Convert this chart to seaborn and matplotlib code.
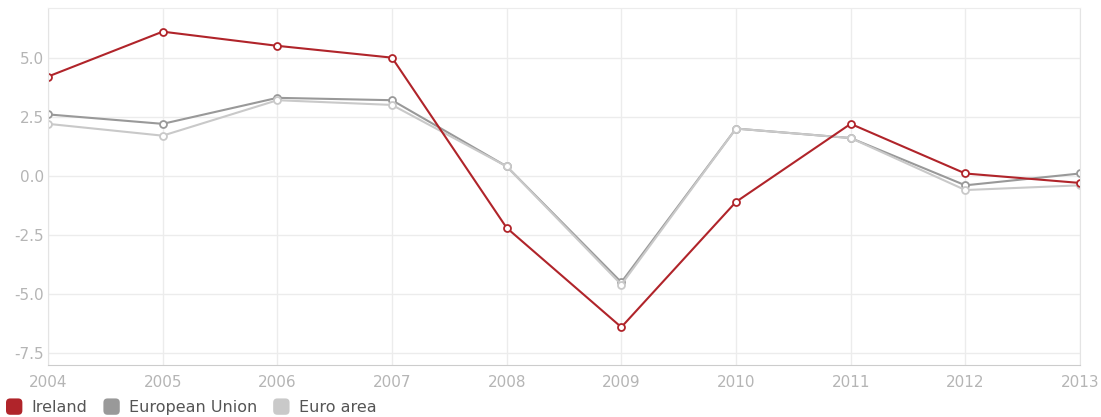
import matplotlib
matplotlib.use("Agg")
import matplotlib.pyplot as plt
import seaborn as sns
import pandas as pd
from matplotlib.patches import Patch, FancyBboxPatch
from matplotlib.legend_handler import HandlerPatch

years = [2004, 2005, 2006, 2007, 2008, 2009, 2010, 2011, 2012, 2013]
ireland = [4.2, 6.1, 5.5, 5.0, -2.2, -6.4, -1.1, 2.2, 0.1, -0.3]
eu = [2.6, 2.2, 3.3, 3.2, 0.4, -4.5, 2.0, 1.6, -0.4, 0.1]
euro_area = [2.2, 1.7, 3.2, 3.0, 0.4, -4.6, 2.0, 1.6, -0.6, -0.4]
series_names = ["Ireland", "European Union", "Euro area"]
yticks = [-7.5, -5.0, -2.5, 0.0, 2.5, 5.0]

colors = {"Ireland": "#b0242a", "European Union": "#999999", "Euro area": "#c9c9c9"}

df = pd.DataFrame({
    "year": years * 3,
    "value": ireland + eu + euro_area,
    "series": [series_names[0]] * 10 + [series_names[1]] * 10 + [series_names[2]] * 10,
})


class RoundedHandler(HandlerPatch):
    def create_artists(self, legend, orig_handle, xdescent, ydescent, width, height, fontsize, trans):
        size = min(width, height)
        p = FancyBboxPatch((-xdescent + 1.5, -ydescent + (height - size) / 2 + 1.5),
                           size - 3, size - 3,
                           boxstyle="round,pad=1.5,rounding_size=3",
                           facecolor=orig_handle.get_facecolor(),
                           edgecolor=orig_handle.get_facecolor(), linewidth=0)
        p.set_transform(trans)
        return [p]


sns.set_style("white")
plt.rcParams["font.family"] = ["DejaVu Sans"]
fig = plt.figure(figsize=(11.01, 4.17), dpi=100)
ax = fig.add_axes([48 / 1101, 1 - 365 / 417, (1080 - 48) / 1101, (365 - 8) / 417])

for name in ["European Union", "Euro area", "Ireland"]:
    sub = df[df["series"] == name]
    sns.lineplot(data=sub, x="year", y="value", ax=ax, color=colors[name],
                 marker="o", markersize=5, markerfacecolor="white",
                 markeredgecolor=colors[name], markeredgewidth=1.3,
                 linewidth=1.5, legend=False)

ax.set_xlim(2004, 2013)
ax.set_ylim(-8.0, 7.1)
ax.set_xticks(years)
ax.set_xticklabels([str(y) for y in years])
ax.set_yticks(yticks)
ax.set_yticklabels([f"{v:.1f}" for v in yticks])
ax.grid(True, color="#ececec", linewidth=1)
ax.set_axisbelow(True)
ax.set_xlabel("")
ax.set_ylabel("")
ax.spines["top"].set_color("#ececec")
ax.spines["right"].set_color("#e4e4e4")
ax.spines["left"].set_color("#e4e4e4")
ax.spines["bottom"].set_color("#cccccc")
ax.tick_params(axis="both", colors="#bbbbbb", labelsize=11, length=0)
ax.tick_params(axis="y", pad=3)
ax.tick_params(axis="x", pad=7)
for lbl in ax.get_xticklabels() + ax.get_yticklabels():
    lbl.set_color("#b5b5b5")

handles = [Patch(facecolor=colors[n], edgecolor=colors[n]) for n in series_names]
leg = fig.legend(handles, series_names, loc="lower left", bbox_to_anchor=(6 / 1101, 2 / 417),
                 ncol=3, frameon=False, fontsize=11.5, handlelength=1.2, handleheight=1.2,
                 columnspacing=1.0, handletextpad=0.4, borderaxespad=0, borderpad=0,
                 handler_map={Patch: RoundedHandler()})
for t in leg.get_texts():
    t.set_color("#555555")

fig.savefig("out.png", dpi=100)
